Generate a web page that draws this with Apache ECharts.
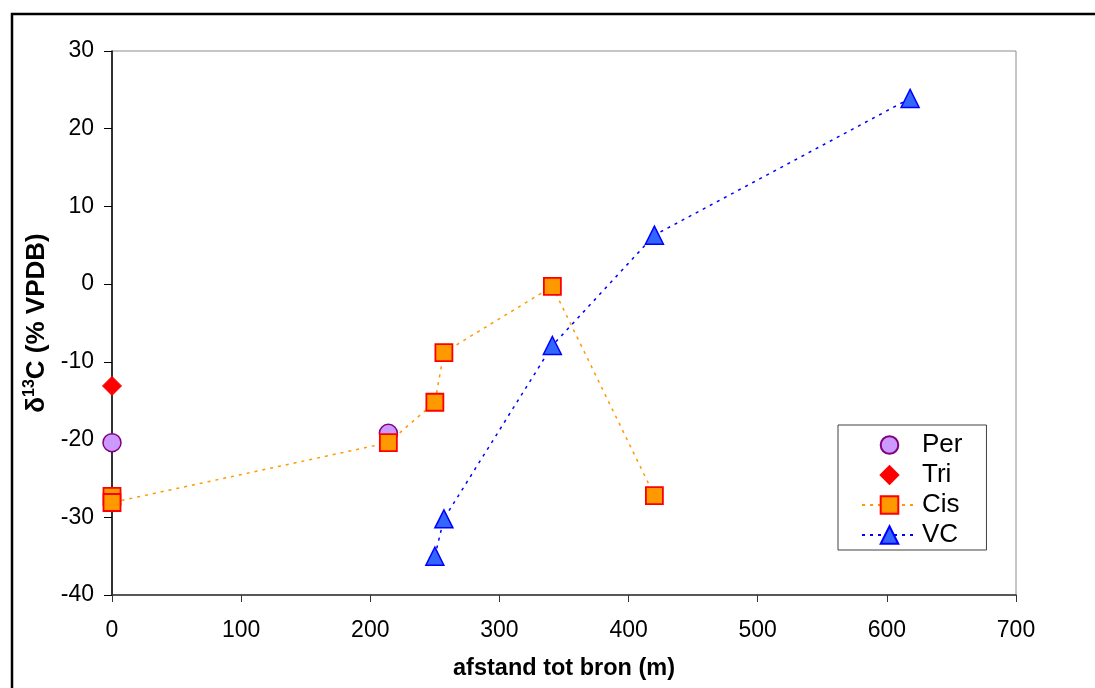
<!DOCTYPE html>
<html>
<head>
<meta charset="utf-8">
<script src="https://cdn.jsdelivr.net/npm/echarts@6/dist/echarts.min.js"></script>
<style>
html, body { margin: 0; padding: 0; background: #fff; }
#chart { width: 1095px; height: 688px; }
</style>
</head>
<body>
<div id="chart"></div>
<script>
// afstand (m) en delta13C per stof
var perX = [0, 214];
var perY = [-20.4, -19.2];
var triX = [0];
var triY = [-13.1];
var cisX = [0, 0, 214, 250, 257, 341, 420];
var cisY = [-27.3, -28.1, -20.4, -15.2, -8.8, -0.3, -27.2];
var vcX = [250, 257, 341, 420, 618];
var vcY = [-35.0, -30.2, -7.9, 6.3, 23.9];

var xTicks = [0, 100, 200, 300, 400, 500, 600, 700];
var yTicks = [-40, -30, -20, -10, 0, 10, 20, 30];

function pairs(xs, ys) {
    var out = [];
    for (var i = 0; i < xs.length; i++) {
        out.push([xs[i], ys[i]]);
    }
    return out;
}

var font = 'Liberation Sans, Arial, sans-serif';
var myChart = echarts.init(document.getElementById('chart'));

var option = {
    backgroundColor: '#fff',
    animation: false,
    textStyle: { fontFamily: font, color: '#000' },
    graphic: [{
        type: 'rect',
        shape: { x: 12, y: 14, width: 1100, height: 700 },
        style: { fill: 'none', stroke: '#000', lineWidth: 2.5 },
        silent: true
    }],
    grid: {
        left: 112,
        top: 51,
        right: 79,
        bottom: 93,
        show: true,
        borderColor: '#8c8c8c',
        borderWidth: 1,
        backgroundColor: '#fff'
    },
    legend: {
        orient: 'vertical',
        left: 838,
        top: 425,
        padding: [7, 24, 2, 23],
        itemGap: 4,
        itemWidth: 55,
        itemHeight: 22,
        borderColor: '#404040',
        borderWidth: 1,
        backgroundColor: '#fff',
        textStyle: { fontFamily: font, fontSize: 26, color: '#000', lineHeight: 26 },
        data: ['Per', 'Tri', 'Cis', 'VC']
    },
    xAxis: {
        type: 'value',
        min: 0,
        max: 700,
        interval: 100,
        name: 'afstand tot bron (m)',
        nameLocation: 'middle',
        nameGap: 62,
        nameTextStyle: { fontFamily: font, fontSize: 23.5, fontWeight: 'bold', color: '#000' },
        axisLine: { onZero: false, lineStyle: { color: '#333', width: 1.5 } },
        axisTick: { show: true, inside: false, length: 7, lineStyle: { color: '#333' } },
        axisLabel: { fontFamily: font, fontSize: 23, color: '#000', margin: 24,
            formatter: function (v) { return xTicks.indexOf(v) >= 0 ? String(v) : ''; } },
        splitLine: { show: false }
    },
    yAxis: {
        type: 'value',
        min: -40,
        max: 30,
        interval: 10,
        name: '{b|δ}{s|13}{b|C (% VPDB)}',
        nameLocation: 'middle',
        nameGap: 52,
        nameTextStyle: {
            fontFamily: font, fontSize: 26, fontWeight: 'bold', color: '#000',
            rich: {
                b: { fontFamily: font, fontSize: 26, fontWeight: 'bold', color: '#000', lineHeight: 30 },
                s: { fontFamily: font, fontSize: 16, fontWeight: 'bold', color: '#000', verticalAlign: 'top', lineHeight: 16 }
            }
        },
        axisLine: { onZero: false, lineStyle: { color: '#000', width: 1.5 } },
        axisTick: { show: true, inside: false, length: 8, lineStyle: { color: '#000' } },
        axisLabel: { fontFamily: font, fontSize: 23, color: '#000', margin: 18,
            formatter: function (v) { return yTicks.indexOf(v) >= 0 ? String(v) : ''; } },
        splitLine: { show: false }
    },
    series: [
        {
            name: 'Per',
            type: 'line',
            data: pairs(perX, perY),
            symbol: 'circle',
            symbolSize: 18,
            lineStyle: { opacity: 0, width: 0 },
            itemStyle: { color: '#cc99ff', borderColor: '#800080', borderWidth: 1.5 }
        },
        {
            name: 'Tri',
            type: 'line',
            data: pairs(triX, triY),
            symbol: 'diamond',
            symbolSize: 19,
            lineStyle: { opacity: 0, width: 0 },
            itemStyle: { color: '#ff0000', borderColor: '#ff0000', borderWidth: 1 }
        },
        {
            name: 'Cis',
            type: 'line',
            data: pairs(cisX, cisY),
            symbol: 'rect',
            symbolSize: 17,
            lineStyle: { color: '#ff9900', width: 1.5, type: [3, 5] },
            itemStyle: { color: '#ff9900', borderColor: '#ff0000', borderWidth: 1.8 }
        },
        {
            name: 'VC',
            type: 'line',
            data: pairs(vcX, vcY),
            symbol: 'triangle',
            symbolSize: 18,
            lineStyle: { color: '#0000ff', width: 1.5, type: [3, 5] },
            itemStyle: { color: '#3366ff', borderColor: '#0000ff', borderWidth: 1.5 }
        }
    ]
};

if (option && typeof option === 'object') {
    myChart.setOption(option, true);
}
</script>
</body>
</html>
